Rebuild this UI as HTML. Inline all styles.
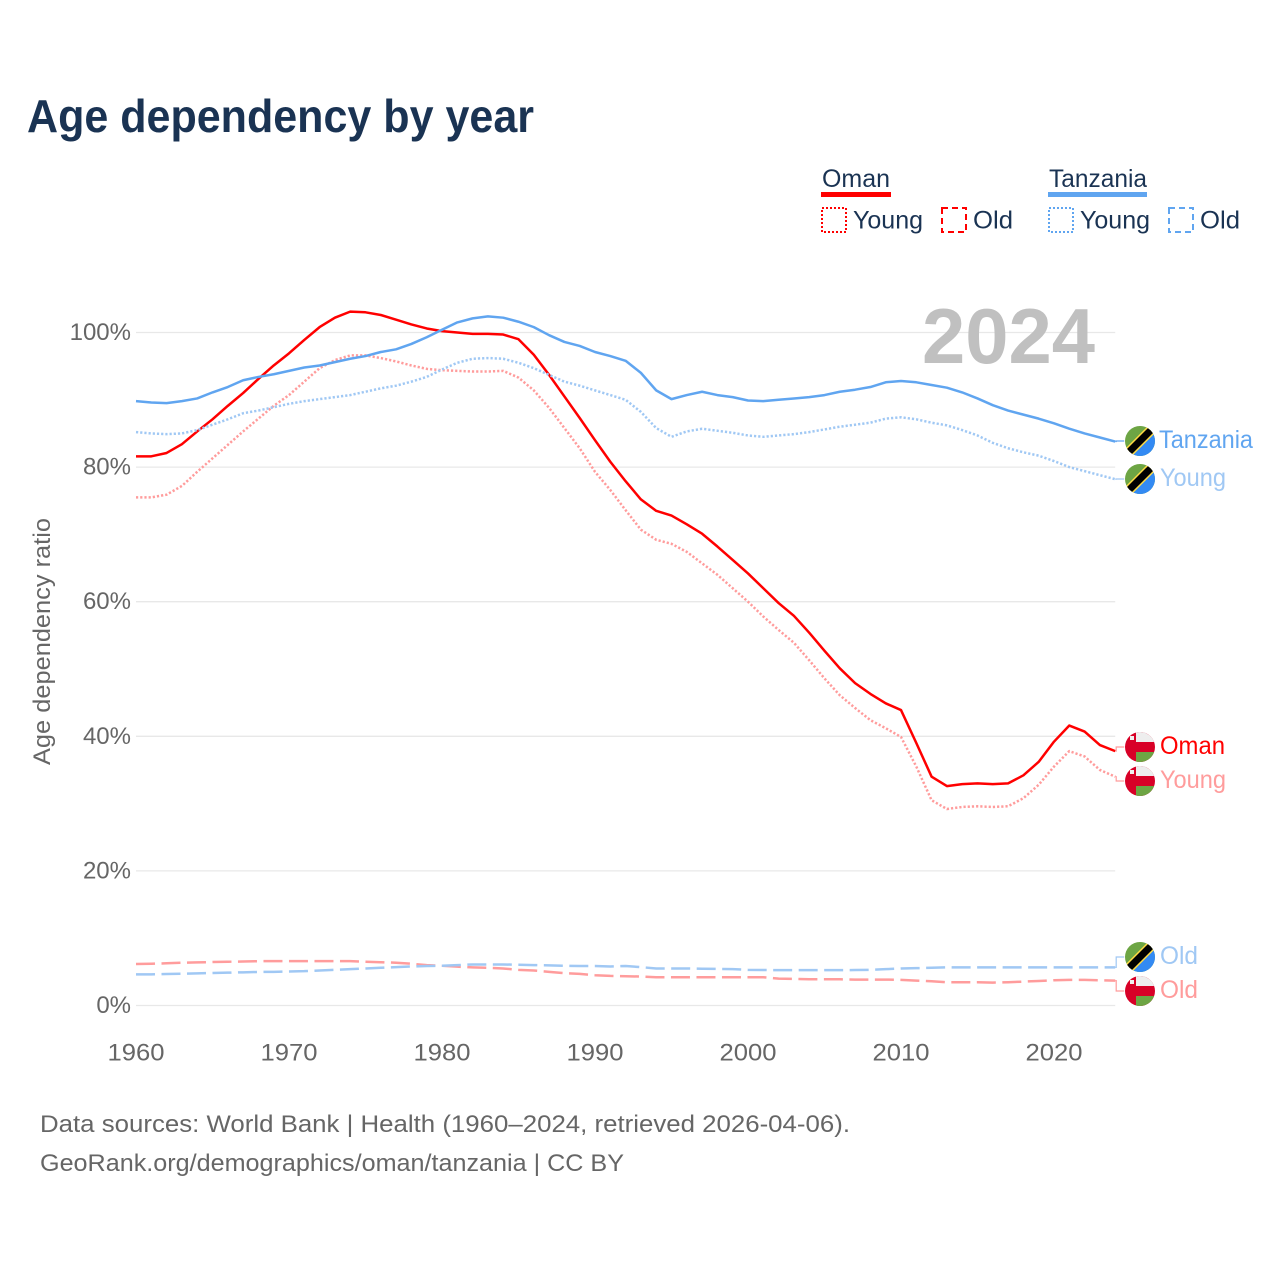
<!DOCTYPE html>
<html lang="en">
<head>
<meta charset="utf-8">
<title>Age dependency by year</title>
<style>
html,body{margin:0;padding:0;background:#fff;}
svg{display:block;font-family:"Liberation Sans",sans-serif;}
</style>
</head>
<body>
<svg id="chart" xmlns="http://www.w3.org/2000/svg" width="1280" height="1280" viewBox="0 0 1280 1280">
<defs>
<clipPath id="flag-clip"><circle cx="0" cy="0" r="15"/></clipPath>
<g id="flag-tz" clip-path="url(#flag-clip)">
<rect x="-15" y="-15" width="30" height="30" fill="#6da544"/>
<polygon points="-15,15 15,-15 15,15" fill="#338af3"/>
<line x1="-15" y1="15" x2="15" y2="-15" stroke="#ffda44" stroke-width="10"/>
<line x1="-15" y1="15" x2="15" y2="-15" stroke="#000" stroke-width="7"/>
</g>
<g id="flag-om">
<circle cx="0" cy="0" r="15" fill="#d80027"/>
<path d="M-4 -5 V-14.46 A15 15 0 0 1 14.14 -5 Z" fill="#eeeeee"/>
<path d="M-4 5 H14.14 A15 15 0 0 1 -4 14.46 Z" fill="#6da544"/>
<rect x="-10" y="-11" width="4" height="4" fill="#f0f0f0"/>
</g>
</defs>

<text x="27" y="132" font-size="46" font-weight="700" fill="#1a3353" textLength="507" lengthAdjust="spacingAndGlyphs">Age dependency by year</text>

<g>
<text x="822" y="187" font-size="25" fill="#1a3353" textLength="68" lengthAdjust="spacingAndGlyphs">Oman</text>
<rect x="821" y="192" width="70" height="5" fill="#ff0000"/>
<rect x="822" y="208" width="24" height="24" fill="none" stroke="#ff0000" stroke-width="2" stroke-dasharray="2 2"/>
<text x="853" y="228.5" font-size="25" fill="#1a3353" textLength="70" lengthAdjust="spacingAndGlyphs">Young</text>
<rect x="942" y="208" width="24" height="24" fill="none" stroke="#ff0000" stroke-width="2" stroke-dasharray="6 4"/>
<text x="973" y="228.5" font-size="25" fill="#1a3353" textLength="40" lengthAdjust="spacingAndGlyphs">Old</text>
<text x="1049" y="187" font-size="25" fill="#1a3353" textLength="98" lengthAdjust="spacingAndGlyphs">Tanzania</text>
<rect x="1048" y="192" width="99" height="5" fill="#60a5f0"/>
<rect x="1049" y="208" width="24" height="24" fill="none" stroke="#60a5f0" stroke-width="2" stroke-dasharray="2 2"/>
<text x="1080" y="228.5" font-size="25" fill="#1a3353" textLength="70" lengthAdjust="spacingAndGlyphs">Young</text>
<rect x="1169" y="208" width="24" height="24" fill="none" stroke="#60a5f0" stroke-width="2" stroke-dasharray="6 4"/>
<text x="1200" y="228.5" font-size="25" fill="#1a3353" textLength="40" lengthAdjust="spacingAndGlyphs">Old</text>
</g>

<g id="grid"></g>
<g id="y-ticks"></g>
<g id="x-ticks"></g>

<text transform="translate(50,641.5) rotate(-90)" text-anchor="middle" font-size="24" fill="#666" textLength="247" lengthAdjust="spacingAndGlyphs">Age dependency ratio</text>

<text x="922" y="363" font-size="78" font-weight="700" fill="#c0c0c0" textLength="173" lengthAdjust="spacingAndGlyphs">2024</text>

<g id="series"></g>
<g id="connectors"></g>

<g>
<use href="#flag-tz" x="1140" y="441"/>
<text x="1159" y="448" font-size="25" fill="#60a5f0" textLength="94" lengthAdjust="spacingAndGlyphs">Tanzania</text>
<use href="#flag-tz" x="1140" y="479"/>
<text x="1160" y="486" font-size="25" fill="#a0c8f4" textLength="66" lengthAdjust="spacingAndGlyphs">Young</text>
<use href="#flag-om" x="1140" y="747"/>
<text x="1160" y="754" font-size="25" fill="#ff0000" textLength="65" lengthAdjust="spacingAndGlyphs">Oman</text>
<use href="#flag-om" x="1140" y="781"/>
<text x="1160" y="788" font-size="25" fill="#ff9c9c" textLength="66" lengthAdjust="spacingAndGlyphs">Young</text>
<use href="#flag-tz" x="1140" y="957"/>
<text x="1160" y="964" font-size="25" fill="#a0c8f4" textLength="38" lengthAdjust="spacingAndGlyphs">Old</text>
<use href="#flag-om" x="1140" y="991"/>
<text x="1160" y="998" font-size="25" fill="#ff9c9c" textLength="38" lengthAdjust="spacingAndGlyphs">Old</text>
</g>

<text x="40" y="1132" font-size="24" fill="#666" textLength="810" lengthAdjust="spacingAndGlyphs">Data sources: World Bank | Health (1960–2024, retrieved 2026-04-06).</text>
<text x="40" y="1171" font-size="24" fill="#666" textLength="584" lengthAdjust="spacingAndGlyphs">GeoRank.org/demographics/oman/tanzania | CC BY</text>
</svg>

<script>
const years = [1960,1961,1962,1963,1964,1965,1966,1967,1968,1969,1970,1971,1972,1973,1974,1975,1976,1977,1978,1979,1980,1981,1982,1983,1984,1985,1986,1987,1988,1989,1990,1991,1992,1993,1994,1995,1996,1997,1998,1999,2000,2001,2002,2003,2004,2005,2006,2007,2008,2009,2010,2011,2012,2013,2014,2015,2016,2017,2018,2019,2020,2021,2022,2023,2024];

const omanTotal = [81.6,81.6,82.1,83.4,85.3,87.1,89.1,91.0,93.1,95.1,96.9,98.9,100.8,102.2,103.1,103.0,102.6,101.9,101.2,100.6,100.2,100.0,99.8,99.8,99.7,99.0,96.7,93.7,90.5,87.3,84.0,80.8,77.9,75.2,73.5,72.8,71.5,70.1,68.2,66.2,64.2,62.0,59.8,57.9,55.4,52.7,50.1,47.9,46.3,44.9,43.9,39.0,34.0,32.6,32.9,33.0,32.9,33.0,34.2,36.2,39.2,41.6,40.7,38.7,37.8];

const omanYoung = [75.5,75.5,75.9,77.2,79.3,81.3,83.3,85.3,87.2,89.1,90.7,92.7,94.7,95.9,96.6,96.6,96.2,95.7,95.1,94.6,94.4,94.3,94.2,94.2,94.3,93.3,91.4,88.8,85.8,82.8,79.3,76.6,73.6,70.7,69.2,68.6,67.4,65.7,64.0,62.0,60.0,57.8,55.8,53.9,51.3,48.6,46.1,44.2,42.4,41.2,39.9,35.5,30.5,29.2,29.5,29.6,29.5,29.6,30.8,32.8,35.5,37.8,37.0,35.0,34.0];

const omanOld = [6.17,6.2,6.27,6.35,6.4,6.46,6.5,6.54,6.58,6.6,6.6,6.6,6.6,6.6,6.6,6.5,6.43,6.36,6.2,6.0,5.9,5.77,5.67,5.6,5.5,5.3,5.2,5.0,4.8,4.7,4.5,4.4,4.35,4.3,4.2,4.2,4.2,4.2,4.2,4.2,4.2,4.2,4.0,3.95,3.9,3.9,3.9,3.85,3.85,3.85,3.8,3.7,3.6,3.45,3.45,3.45,3.4,3.45,3.55,3.65,3.75,3.8,3.8,3.75,3.7];

const tanzaniaTotal = [89.8,89.6,89.5,89.8,90.2,91.1,91.9,92.9,93.4,93.8,94.3,94.8,95.1,95.6,96.1,96.5,97.1,97.5,98.3,99.3,100.4,101.5,102.1,102.4,102.2,101.6,100.8,99.6,98.6,98.0,97.1,96.5,95.8,94.0,91.4,90.1,90.7,91.2,90.7,90.4,89.9,89.8,90.0,90.2,90.4,90.7,91.2,91.5,91.9,92.6,92.8,92.6,92.2,91.8,91.1,90.2,89.2,88.4,87.8,87.2,86.5,85.7,85.0,84.4,83.8];

const tanzaniaYoung = [85.2,85.0,84.9,85.0,85.5,86.3,87.1,88.0,88.4,88.9,89.4,89.8,90.1,90.4,90.7,91.2,91.7,92.1,92.7,93.4,94.5,95.5,96.1,96.2,96.1,95.5,94.7,93.7,92.7,92.1,91.4,90.7,90.0,88.2,85.8,84.5,85.3,85.7,85.4,85.1,84.7,84.5,84.7,84.9,85.2,85.6,86.0,86.3,86.6,87.2,87.4,87.1,86.6,86.2,85.5,84.7,83.6,82.8,82.2,81.7,80.9,80.0,79.4,78.8,78.2];

const tanzaniaOld = [4.63,4.63,4.68,4.72,4.78,4.83,4.88,4.93,4.98,5.0,5.05,5.1,5.2,5.3,5.4,5.5,5.6,5.7,5.8,5.87,5.9,6.0,6.1,6.1,6.1,6.05,6.0,5.97,5.9,5.87,5.87,5.8,5.87,5.7,5.5,5.5,5.5,5.47,5.43,5.4,5.3,5.27,5.25,5.25,5.25,5.25,5.25,5.27,5.3,5.4,5.5,5.55,5.6,5.67,5.67,5.67,5.67,5.67,5.67,5.67,5.67,5.67,5.67,5.67,5.67];

const yTickValues = [0,20,40,60,80,100];
const yTickLabels = ["0%","20%","40%","60%","80%","100%"];
const xTickValues = [1960,1970,1980,1990,2000,2010,2020];
const xTickLabels = ["1960","1970","1980","1990","2000","2010","2020"];

const SVGNS = "http://www.w3.org/2000/svg";
function xScale(year){ return 136 + (year - 1960) * 15.3; }
function yScale(value){ return 1005.5 - value * 6.73; }

const gridLayer = document.getElementById("grid");
const yTickLayer = document.getElementById("y-ticks");
const xTickLayer = document.getElementById("x-ticks");
const seriesLayer = document.getElementById("series");
const connectorLayer = document.getElementById("connectors");

yTickValues.forEach(function(v, i){
  const gl = document.createElementNS(SVGNS, "line");
  
  
  gl.setAttribute("x1", xScale(1960));
  gl.setAttribute("x2", xScale(2024));
  gl.setAttribute("y1", yScale(v));
  gl.setAttribute("y2", yScale(v));
  gl.setAttribute("stroke", "#e8e8e8");
  gl.setAttribute("stroke-width", "1.3");
  gridLayer.appendChild(gl);

  const t = document.createElementNS(SVGNS, "text");
  
  
  t.setAttribute("x", 131);
  t.setAttribute("y", yScale(v) + 7.5);
  t.setAttribute("text-anchor", "end");
  t.setAttribute("font-size", "24");
  t.setAttribute("fill", "#666");
  t.textContent = yTickLabels[i];
  yTickLayer.appendChild(t);
});

xTickValues.forEach(function(v, i){
  const t = document.createElementNS(SVGNS, "text");
  
  
  t.setAttribute("x", xScale(v));
  t.setAttribute("y", 1060.5);
  t.setAttribute("text-anchor", "middle");
  t.setAttribute("font-size", "24");
  t.setAttribute("fill", "#666");
  t.setAttribute("textLength", "57");
  t.setAttribute("lengthAdjust", "spacingAndGlyphs");
  t.textContent = xTickLabels[i];
  xTickLayer.appendChild(t);
});

function drawLine(values, color, dash, name){
  const p = document.createElementNS(SVGNS, "polyline");
  
  
  const pts = values.map(function(v, i){
    return xScale(years[i]).toFixed(2) + "," + yScale(v).toFixed(2);
  }).join(" ");
  p.setAttribute("points", pts);
  p.setAttribute("fill", "none");
  p.setAttribute("stroke", color);
  p.setAttribute("stroke-width", "2.5");
  p.setAttribute("stroke-linejoin", "round");
  if (dash) p.setAttribute("stroke-dasharray", dash);
  seriesLayer.appendChild(p);
}

function drawConnector(values, color, targetY, name){
  const c = document.createElementNS(SVGNS, "path");
  
  
  const lx = xScale(years[years.length - 1]);
  const ly = yScale(values[values.length - 1]);
  c.setAttribute("d", "M" + lx + " " + ly.toFixed(2) + " H" + (lx + 1) + " V" + targetY + " H" + (lx + 9));
  c.setAttribute("fill", "none");
  c.setAttribute("stroke", color);
  c.setAttribute("stroke-width", "1.2");
  connectorLayer.appendChild(c);
}

const RED = "#ff0000", RED_LIGHT = "#ff9c9c", BLUE = "#60a5f0", BLUE_LIGHT = "#a0c8f4";
drawLine(omanYoung, RED_LIGHT, "2.2 2", "line-oman-young");
drawLine(omanOld, RED_LIGHT, "19 6.5", "line-oman-old");
drawLine(omanTotal, RED, null, "line-oman-total");
drawLine(tanzaniaYoung, BLUE_LIGHT, "2.2 2", "line-tanzania-young");
drawLine(tanzaniaOld, BLUE_LIGHT, "19 6.5", "line-tanzania-old");
drawLine(tanzaniaTotal, BLUE, null, "line-tanzania-total");

drawConnector(tanzaniaTotal, BLUE, 441, "connector-tanzania");
drawConnector(tanzaniaYoung, BLUE_LIGHT, 479, "connector-tanzania-young");
drawConnector(omanTotal, RED_LIGHT, 747, "connector-oman");
drawConnector(omanYoung, RED_LIGHT, 781, "connector-oman-young");
drawConnector(tanzaniaOld, BLUE_LIGHT, 957, "connector-tanzania-old");
drawConnector(omanOld, RED_LIGHT, 991, "connector-oman-old");
</script>
</body>
</html>
